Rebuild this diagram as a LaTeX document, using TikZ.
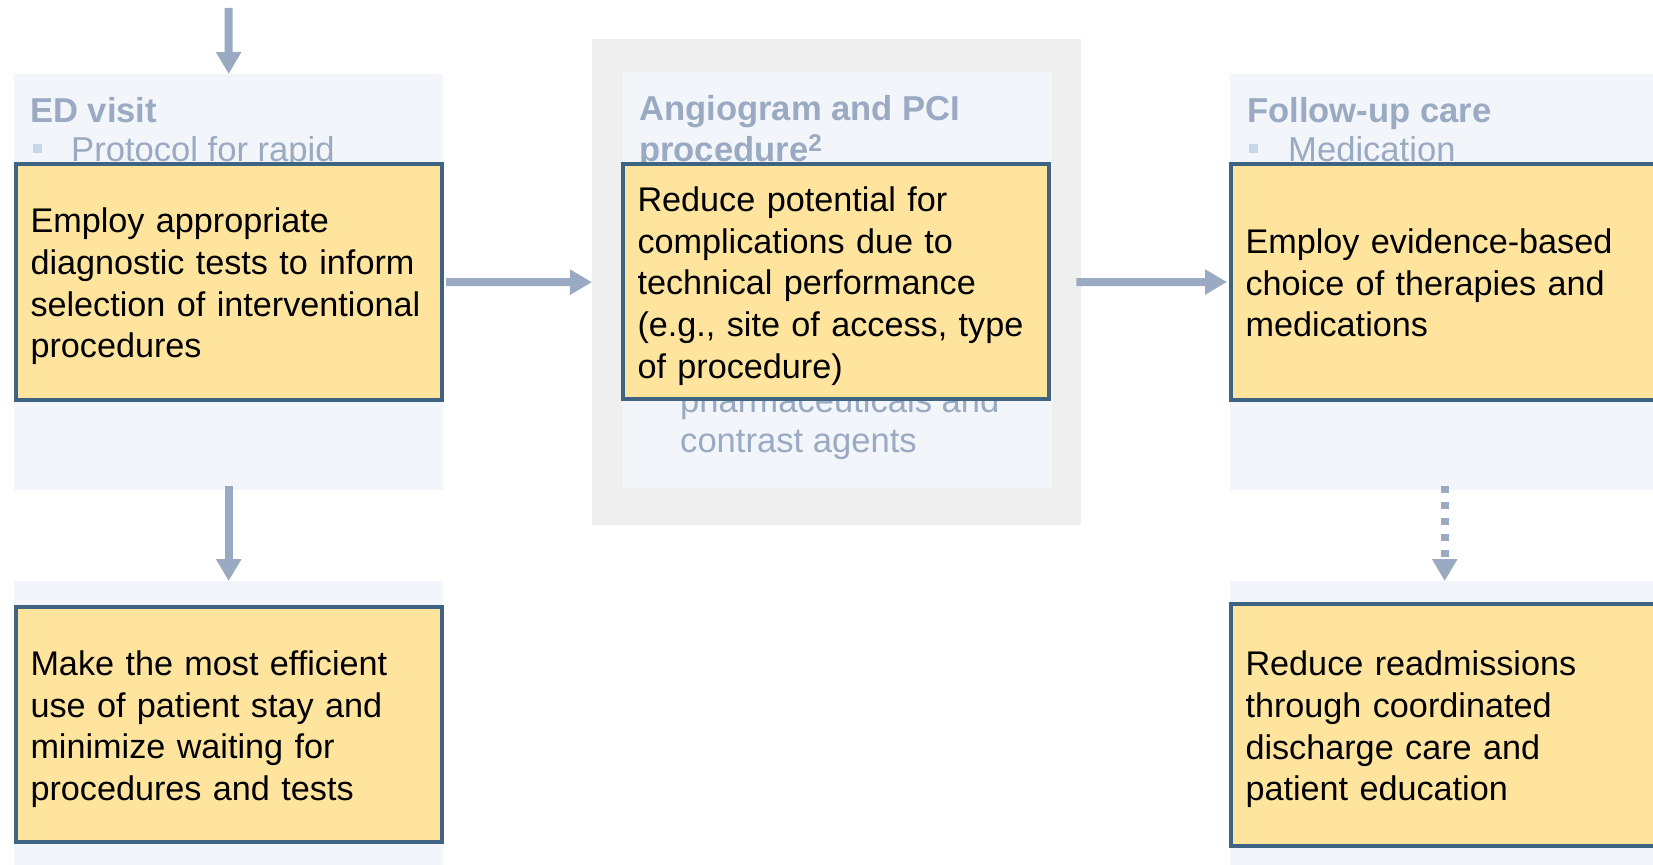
\documentclass[tikz,border=0pt]{standalone}
\usepackage{fontspec}
\setmainfont{Liberation Sans}
\usetikzlibrary{arrows.meta}
\definecolor{lightbg}{HTML}{F2F5F9}
\definecolor{grayouter}{HTML}{EFEFEF}
\definecolor{yellowfill}{HTML}{FFE49E}
\definecolor{borderc}{HTML}{3F6382}
\definecolor{arrowc}{HTML}{9AAAC2}
\definecolor{bulletc}{HTML}{C5D8E8}
\tikzset{
  bgbox/.style={fill=lightbg, draw=none, inner sep=0pt, anchor=north west},
  outerbox/.style={fill=grayouter, draw=none, inner sep=0pt, anchor=north west},
  ybox/.style={draw=borderc, line width=4pt, fill=yellowfill, text width=397pt,
    inner xsep=14.5pt, inner ysep=0pt, align=left, text=black,
    font=\fontsize{34.2}{41.6}\selectfont,
    execute at end node={\par\kern\dimexpr-\prevdepth-2pt\relax}},
  headtxt/.style={inner sep=0pt, anchor=base west, text=arrowc,
    font=\fontsize{34.6}{41.6}\selectfont\bfseries},
  bultxt/.style={inner sep=0pt, anchor=base west, text=arrowc,
    font=\fontsize{34.6}{41.6}\selectfont},
  bsq/.style={fill=bulletc, draw=none, inner sep=0pt, minimum size=9pt},
  arr/.style={draw=arrowc, line width=8pt, -{Triangle[width=24pt,length=22pt]}},
  dotarr/.style={arr, dash pattern=on 7pt off 9pt}
}
\begin{document}
\begin{tikzpicture}[x=1pt,y=-1pt]
\clip (0,0) rectangle (1653,864);
\fill[white] (0,0) rectangle (1653,864);
% background panels
\node[bgbox, minimum width=429pt, minimum height=416pt] (lb1) at (14,74) {};
\node[outerbox, minimum width=489pt, minimum height=486pt] (gray) at (592,39) {};
\node[bgbox, minimum width=429pt, minimum height=416pt] (lb2) at (623,72) {};
\node[bgbox, minimum width=429pt, minimum height=416pt] (lb3) at (1230,74) {};
\node[bgbox, minimum width=429pt, minimum height=300pt] (lb4) at (14,581) {};
\node[bgbox, minimum width=429pt, minimum height=300pt] (lb6) at (1230,581) {};
% faded panel texts
\node[headtxt] (h1) at (30,123) {ED visit};
\node[bsq] (s1) at (37.5,148.5) {};
\node[bultxt] (t1) at (71,161) {Protocol for rapid};
\node[headtxt] (h2a) at (639,121) {Angiogram and PCI};
\node[headtxt] (h2b) at (639,161) {procedure\textsuperscript{2}};
\node[bultxt] (t2a) at (680,412) {pharmaceuticals and};
\node[bultxt] (t2b) at (680,452) {contrast agents};
\node[headtxt] (h3) at (1247,122) {Follow-up care};
\node[bsq] (s3) at (1253,148.5) {};
\node[bultxt] (t3) at (1288,161) {Medication};
% highlighted boxes
\node[ybox, minimum height=236pt] (y1) at (229,282)
  {Employ appropriate\\diagnostic tests to inform\\selection of interventional\\procedures};
\node[ybox, minimum height=235pt] (y2) at (836,281.5)
  {Reduce potential for\\complications due to\\technical performance\\(e.g., site of access, type\\of procedure)};
\node[ybox, minimum height=236pt] (y3) at (1444,282)
  {Employ evidence-based\\choice of therapies and\\medications};
\node[ybox, minimum height=235pt] (y4) at (229,724.5)
  {Make the most efficient\\use of patient stay and\\minimize waiting for\\procedures and tests};
\node[ybox, minimum height=242pt] (y6) at (1444,725)
  {Reduce readmissions\\through coordinated\\discharge care and\\patient education};
% connectors
\coordinate (topstart) at (228.5,8);
\draw[arr] (topstart) -- (lb1.north);
\draw[arr, shorten <=2pt] (y1.east) -- (gray.west);
\draw[arr, shorten <=-5pt, shorten >=2pt] (gray.east) -- (y3.west);
\draw[arr, shorten <=-4pt] (lb1.south) -- (lb4.north);
\draw[dotarr, shorten <=-4pt] (lb3.south) -- (lb6.north);
\end{tikzpicture}
\end{document}
